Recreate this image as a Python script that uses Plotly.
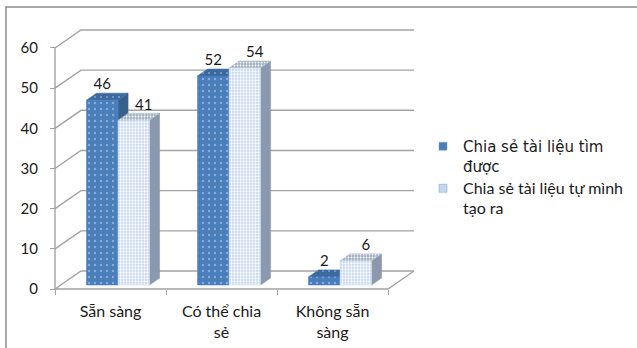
import plotly.graph_objects as go

# ---------------- data ----------------
categories = ["Sẵn sàng", "Có thể chia<br>sẻ", "Không sẵn<br>sàng"]
series_names = ["Chia sẻ tài liệu tìm được", "Chia sẻ tài liệu tự mình tạo ra"]
found_values = [46, 52, 2]
created_values = [41, 54, 6]
y_ticks = [0, 10, 20, 30, 40, 50, 60]

# ---------------- geometry / style constants ----------------
W, H = 637, 348
AX_PX, ZERO_PX = 55, 289          # pixel of y-axis line and of value 0
SX, SY = 111.0, 4.017             # px per category, px per value unit
ML, MR, MT, MB = 50, 216, 28, 55
L_PX, R_PX, T_PX, B_PX = ML, W - MR, MT, H - MB

xa, xb = (L_PX - AX_PX) / SX, (R_PX - AX_PX) / SX
ya, yb = (ZERO_PX - B_PX) / SY, (ZERO_PX - T_PX) / SY

DX, DY = 26 / SX, 18 / SY          # floor/back-wall depth
BDX, BDY = 10 / SX, 7 / SY         # bar depth
BASE = 1.0                         # bar front face lift (depth perspective)
BW = 0.284                         # bar width (category units)
GROUP_C = 0.568                    # group centre inside a category

GRID = "#a3a3a3"
FONT = "Lato"
TXT = "#1a1a1a"

series_styles = [
    dict(front="#4a7ebb", top="#3c6aa0", side="#36618f",
         pat=dict(shape=".", fgcolor="#86a9d8", size=6, solidity=0.13)),
    dict(front="#c6d7ee", top="#a5b3c6", side="#8b99ae",
         pat=dict(shape=".", fgcolor="#ffffff", size=3, solidity=0.45)),
]

fig = go.Figure()

# back wall gridlines + diagonals
gx, gy = [], []
for v in y_ticks:
    gx += [0, DX, len(categories) + DX, None]
    gy += [v, v + DY, v + DY, None]
# floor front edge and right edge, y axis line
gx += [0, len(categories), len(categories) + DX, None, 0, 0]
gy += [0, 0, DY, None, 0, y_ticks[-1]]
fig.add_trace(go.Scatter(x=gx, y=gy, mode="lines", line=dict(color=GRID, width=1.4),
                         hoverinfo="skip", showlegend=False))

def poly(xs, ys, color, pattern=None):
    kw = dict(x=xs + [xs[0]], y=ys + [ys[0]], mode="lines", fill="toself",
              fillcolor=color, line=dict(color=color, width=0.6),
              hoverinfo="skip", showlegend=False)
    if pattern:
        kw["fillpattern"] = dict(bgcolor=color, **pattern)
    fig.add_trace(go.Scatter(**kw))

all_values = [found_values, created_values]
label_x, label_y, label_t = [], [], []
for i in range(len(categories)):
    for k, vals in enumerate(all_values):
        st = series_styles[k]
        h = vals[i]
        xl = i + GROUP_C + (k - 1) * BW
        xr = xl + BW
        b, t = BASE, BASE + h
        # side face
        poly([xr, xr + BDX, xr + BDX, xr], [b, b + BDY, t + BDY, t], st["side"])
        # top face
        poly([xl, xr, xr + BDX, xl + BDX], [t, t, t + BDY, t + BDY], st["top"],
             dict(st["pat"], solidity=st["pat"]["solidity"] * 0.6))
        # front face
        poly([xl, xr, xr, xl], [b, b, t, t], st["front"], st["pat"])
        label_x.append((xl + xr) / 2 + (BDX if k == 1 else 0))
        label_y.append(t + BDY)
        label_t.append(str(h))

fig.add_trace(go.Scatter(x=label_x, y=label_y, text=label_t, mode="text",
                         textposition="top center",
                         textfont=dict(family=FONT, size=15, color=TXT),
                         hoverinfo="skip", showlegend=False, cliponaxis=False))

# legend entries
legend_fonts = ["font-family:'DejaVu Sans', Verdana, sans-serif;font-size:15px",
                "font-family:Lato, sans-serif;font-size:16px"]
legend_lines = [["Chia sẻ tài liệu tìm", "được"], ["Chia sẻ tài liệu tự mình", "tạo ra"]]
for k in range(2):
    name = "<br>".join(f'<span style="{legend_fonts[k]}">{ln}</span>' for ln in legend_lines[k])
    fig.add_trace(go.Scatter(x=[None], y=[None], mode="markers", name=name,
                             marker=dict(symbol="square", size=8,
                                         color=series_styles[k]["front"],
                                         line=dict(color="#7f9cc7", width=0.5))))

def px2paper_x(p):
    return (p - L_PX) / (R_PX - L_PX)

def px2paper_y(p):
    return (B_PX - p) / (B_PX - T_PX)

fig.update_layout(
    template="none",
    width=W, height=H,
    margin=dict(l=ML, r=MR, t=MT, b=MB, pad=0, autoexpand=False),
    paper_bgcolor="white", plot_bgcolor="white",
    font=dict(family=FONT, size=15, color=TXT),
    showlegend=True,
    legend=dict(x=px2paper_x(423), y=px2paper_y(130), xanchor="left", yanchor="top",
                valign="top", bgcolor="rgba(0,0,0,0)", tracegroupgap=0, borderwidth=0,
                font=dict(family=FONT, size=15, color=TXT)),
    xaxis=dict(range=[xa, xb], anchor="free", position=(0 - ya) / (yb - ya),
               automargin=False,
               tickmode="array",
               tickvals=[i + 0.5 for i in range(len(categories))],
               ticktext=categories, ticks="", showgrid=False, zeroline=False,
               showline=False, ticklabelstandoff=11,
               tickfont=dict(family=FONT, size=16, color=TXT),
               minor=dict(tickmode="array", tickvals=list(range(len(categories) + 1)),
                          ticks="outside", ticklen=5, tickcolor=GRID, tickwidth=1.4,
                          showgrid=False)),
    yaxis=dict(range=[ya, yb], anchor="free", position=(0 - xa) / (xb - xa),
               automargin=False,
               tickmode="array", tickvals=y_ticks, ticks="outside", ticklen=5,
               tickcolor=GRID, tickwidth=1.4, showgrid=False, zeroline=False,
               showline=False, ticklabelstandoff=9,
               tickfont=dict(family=FONT, size=15, color=TXT)),
    shapes=[dict(type="rect", xref="paper", yref="paper",
                 x0=px2paper_x(6), x1=px2paper_x(W + 10),
                 y0=px2paper_y(H + 10), y1=px2paper_y(7),
                 line=dict(color="#8c8c8c", width=1.5), fillcolor="rgba(0,0,0,0)",
                 layer="below")],
)

fig.write_html("out.html")
